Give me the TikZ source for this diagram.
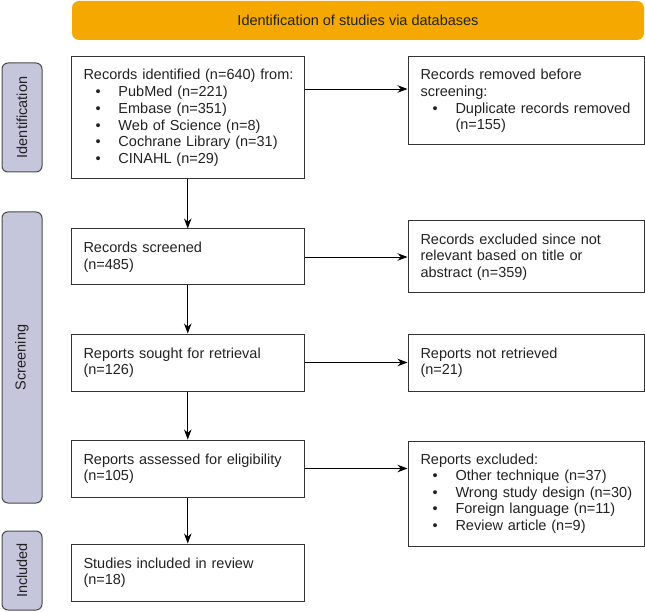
\documentclass[tikz,border=0pt]{standalone}
\usepackage{fontspec}
\setmainfont{Liberation Sans}
\usetikzlibrary{arrows.meta}
\definecolor{bannerorange}{HTML}{F5A800}
\definecolor{sidefill}{HTML}{C5C5DC}
\definecolor{sideline}{HTML}{4A4A4A}
\definecolor{boxline}{HTML}{333333}
\definecolor{txt}{HTML}{222222}
\newcommand{\itm}[1]{\par\mbox{\hspace*{12pt}\makebox[23pt][l]{\textbullet}#1}}
\tikzset{
  flowbox/.style={draw=boxline, line width=1pt, rectangle, anchor=center,
    inner xsep=12.5pt, inner ysep=0pt, align=left, text=txt,
    font=\fontsize{14.5}{16.5}\selectfont},
  leftbox/.style={flowbox, minimum width=233.5pt, text width=208.5pt},
  rightbox/.style={flowbox, minimum width=236pt, text width=211pt},
  sidebox/.style={draw=sideline, fill=sidefill, line width=1pt, rounded corners=6pt,
    minimum width=40pt, anchor=center, inner sep=0pt},
  sidetext/.style={rotate=90, text=txt, font=\fontsize{14.5}{16}\selectfont, anchor=center},
  arr/.style={draw=black, line width=0.9pt, -{Stealth[length=10pt,width=7.5pt]}}
}
\begin{document}
\begin{tikzpicture}[x=1pt,y=-1pt]
\useasboundingbox (0,0) rectangle (645,612);
% banner
\node[fill=bannerorange, rounded corners=7pt, minimum width=572pt, minimum height=39pt,
  inner sep=0pt, text=txt, font=\fontsize{14.5}{16}\selectfont] (banner) at (358,20.5)
  {Identification of studies via databases};
% side labels
\node[sidebox, minimum height=109pt] (sid) at (22,117.5) {};
\node[sidetext] (sidt) at (sid.center) {Identification};
\node[sidebox, minimum height=291pt] (sscr) at (22,357.5) {};
\node[sidetext] (sscrt) at (sscr.center) {Screening};
\node[sidebox, minimum height=79pt] (sinc) at (22,570.5) {};
\node[sidetext] (sinct) at (sinc.center) {Included};
% left column
\node[leftbox, minimum height=122pt, font=\fontsize{14.5}{16.8}\selectfont] (b1) at (187.75,118) {\mbox{Records identified (n=640) from:}%
  \itm{PubMed (n=221)}\itm{Embase (n=351)}\itm{Web of Science (n=8)}%
  \itm{Cochrane Library (n=31)}\itm{CINAHL (n=29)}};
\node[leftbox, minimum height=56pt] (b2) at (187.75,257) {Records screened\\(n=485)};
\node[leftbox, minimum height=57pt] (b3) at (187.75,362.5) {Reports sought for retrieval\\(n=126)};
\node[leftbox, minimum height=57pt] (b4) at (187.75,468.5) {\mbox{Reports assessed for eligibility}\\(n=105)};
\node[leftbox, minimum height=57pt] (b5) at (187.75,572.5) {Studies included in review\\(n=18)};
% right column
\node[rightbox, minimum height=88pt] (r1) at (526,101) {Records removed before\\screening:%
  \itm{Duplicate records removed}\par\hspace*{35pt}(n=155)};
\node[rightbox, minimum height=71.5pt] (r2) at (526,256.75) {Records excluded since not\\relevant based on title or\\abstract (n=359)};
\node[rightbox, minimum height=57pt] (r3) at (526,362.5) {Reports not retrieved\\(n=21)};
\node[rightbox, minimum height=105pt] (r4) at (526,493.5) {Reports excluded:%
  \itm{Other technique (n=37)}\itm{Wrong study design (n=30)}%
  \itm{Foreign language (n=11)}\itm{Review article (n=9)}};
% connectors
\coordinate (h1) at (0,89);
\draw[arr] (b1) -- (b2);
\draw[arr] (b2) -- (b3);
\draw[arr] (b3) -- (b4);
\draw[arr] (b4) -- (b5);
\draw[arr] (b1.east |- h1) -- (r1.west |- h1);
\draw[arr] (b2.east) -- (b2.east -| r2.west);
\draw[arr] (b3.east) -- (b3.east -| r3.west);
\draw[arr] (b4.east) -- (b4.east -| r4.west);
\end{tikzpicture}
\end{document}
